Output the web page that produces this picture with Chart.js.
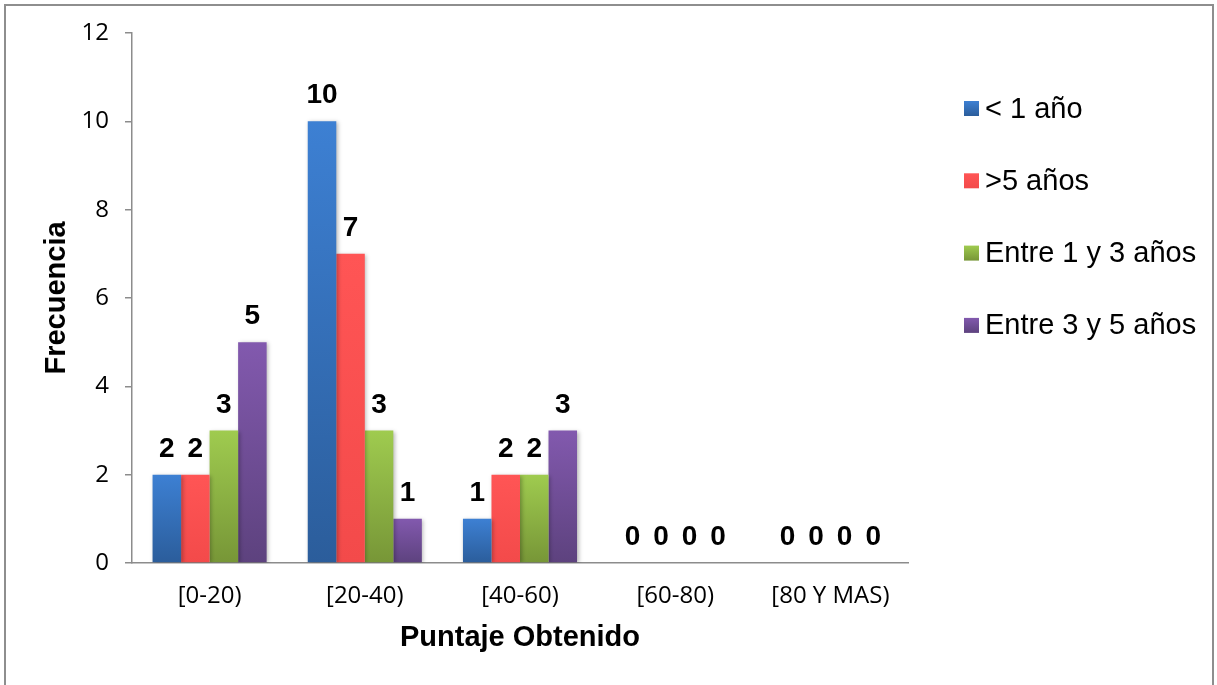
<!DOCTYPE html>
<html>
<head>
<meta charset="utf-8">
<script src="https://cdn.jsdelivr.net/npm/chart.js@4.4.1/dist/chart.umd.min.js"></script>
<style>
  html, body { margin: 0; padding: 0; background: #ffffff; }
  #wrap { width: 1217px; height: 685px; position: relative; }
</style>
</head>
<body>
<div id="wrap"><canvas id="chart" width="1217" height="685"></canvas></div>
<script>
// Score ranges and frequency per years-of-experience group
const categories = ['[0-20)', '[20-40)', '[40-60)', '[60-80)', '[80 Y MAS)'];
const seriesNames = ['< 1 año', '>5 años', 'Entre 1 y 3 años', 'Entre 3 y 5 años'];
const menosDeUnAno = [2, 10, 1, 0, 0];
const masDeCincoAnos = [2, 7, 2, 0, 0];
const entreUnoYTres = [3, 3, 2, 0, 0];
const entreTresYCinco = [5, 1, 3, 0, 0];
const yTicks = [0, 2, 4, 6, 8, 10, 12];

// top / bottom colour of each series' vertical gradient
const palette = [
  ['#3d80d3', '#2b5d9b'],
  ['#ff5555', '#f34a4a'],
  ['#9fcb4f', '#779637'],
  ['#8259ae', '#5d427e']
];

const LABEL_FONT = '"Liberation Sans", Arial, sans-serif';
const TICK_FONT = '"Open Sans", "Liberation Sans", sans-serif';
const AXIS_GREY = '#8c8c8c';

function barFill(context) {
  const [top, bottom] = palette[context.datasetIndex];
  const chart = context.chart;
  const y = chart.scales ? chart.scales.y : null;
  if (!y || context.type !== 'data' || !chart.chartArea) return top;
  const y0 = y.getPixelForValue(0);
  const y1 = y.getPixelForValue(context.raw);
  if (!isFinite(y1) || Math.abs(y1 - y0) < 1) return top;
  const g = chart.ctx.createLinearGradient(0, y1, 0, y0);
  g.addColorStop(0, top);
  g.addColorStop(1, bottom);
  return g;
}

// white page with a thin grey frame around the whole figure
const framePlugin = {
  id: 'frame',
  beforeDraw(chart) {
    const ctx = chart.ctx;
    ctx.save();
    ctx.fillStyle = '#ffffff';
    ctx.fillRect(0, 0, chart.width, chart.height);
    ctx.restore();
  },
  afterDraw(chart) {
    const ctx = chart.ctx;
    ctx.save();
    ctx.strokeStyle = '#8e8e8e';
    ctx.lineWidth = 2;
    ctx.strokeRect(5, 5, 1208, 700);
    ctx.restore();
  }
};

// soft shadow under the bars and bold value labels above them
const valueLabels = {
  id: 'valueLabels',
  beforeDatasetsDraw(chart) {
    const ctx = chart.ctx;
    ctx.save();
    ctx.shadowColor = 'rgba(0,0,0,0.28)';
    ctx.shadowBlur = 4;
    ctx.shadowOffsetX = 1.5;
    ctx.shadowOffsetY = 1;
  },
  afterDatasetsDraw(chart) {
    const ctx = chart.ctx;
    ctx.restore();
    ctx.save();
    ctx.font = 'bold 28px ' + LABEL_FONT;
    ctx.fillStyle = '#000000';
    ctx.textAlign = 'center';
    ctx.textBaseline = 'alphabetic';
    chart.data.datasets.forEach((ds, i) => {
      const meta = chart.getDatasetMeta(i);
      meta.data.forEach((el, j) => {
        ctx.fillText(String(ds.data[j]), el.x, el.y - 18);
      });
    });
    ctx.restore();
  }
};

// legend column to the right of the plot
const sideLegend = {
  id: 'sideLegend',
  afterDraw(chart) {
    const ctx = chart.ctx;
    ctx.save();
    ctx.font = '29px ' + LABEL_FONT;
    ctx.textBaseline = 'middle';
    ctx.textAlign = 'left';
    chart.data.datasets.forEach((ds, i) => {
      const cy = 108.5 + i * 72.3;
      const [top, bottom] = palette[i];
      const g = ctx.createLinearGradient(0, cy - 7.5, 0, cy + 7.5);
      g.addColorStop(0, top);
      g.addColorStop(1, bottom);
      ctx.fillStyle = g;
      ctx.fillRect(964, cy - 7.5, 15, 15);
      ctx.fillStyle = '#000000';
      ctx.fillText(ds.label, 985, cy + 1);
    });
    ctx.restore();
  }
};

const seriesValues = [menosDeUnAno, masDeCincoAnos, entreUnoYTres, entreTresYCinco];

new Chart(document.getElementById('chart'), {
  type: 'bar',
  data: {
    labels: categories,
    datasets: seriesNames.map((name, i) => ({
      label: name,
      data: seriesValues[i],
      backgroundColor: barFill,
      borderWidth: 0,
      categoryPercentage: 0.735,
      barPercentage: 1.0
    }))
  },
  options: {
    responsive: false,
    animation: false,
    devicePixelRatio: 1,
    layout: { padding: { top: 33, right: 309, bottom: 0, left: 0 } },
    plugins: {
      legend: { display: false },
      tooltip: { enabled: false }
    },
    scales: {
      x: {
        grid: { display: false, drawTicks: false },
        border: { display: true, color: AXIS_GREY, width: 1.5 },
        ticks: {
          color: '#000000',
          font: { family: TICK_FONT, size: 24 },
          padding: 19,
          maxRotation: 0,
          autoSkip: false
        },
        title: {
          display: true,
          text: 'Puntaje Obtenido',
          color: '#000000',
          font: { family: LABEL_FONT, size: 29, weight: 'bold' },
          padding: { top: 0, bottom: 30 }
        },
        afterFit(scale) { scale.height = 122; }
      },
      y: {
        min: 0,
        max: 12,
        afterBuildTicks(scale) { scale.ticks = yTicks.map(v => ({ value: v })); },
        grid: {
          drawOnChartArea: false,
          drawTicks: true,
          tickLength: 7,
          color: AXIS_GREY,
          lineWidth: 1.5
        },
        border: { display: true, color: AXIS_GREY, width: 1.5 },
        ticks: {
          color: '#000000',
          font: { family: TICK_FONT, size: 24 },
          padding: 16
        },
        title: {
          display: true,
          text: 'Frecuencia',
          color: '#000000',
          font: { family: LABEL_FONT, size: 29, weight: 'bold' },
          padding: { top: 40, bottom: 0 }
        },
        afterFit(scale) { scale.width = 132; }
      }
    }
  },
  plugins: [framePlugin, valueLabels, sideLegend]
});
</script>
</body>
</html>
